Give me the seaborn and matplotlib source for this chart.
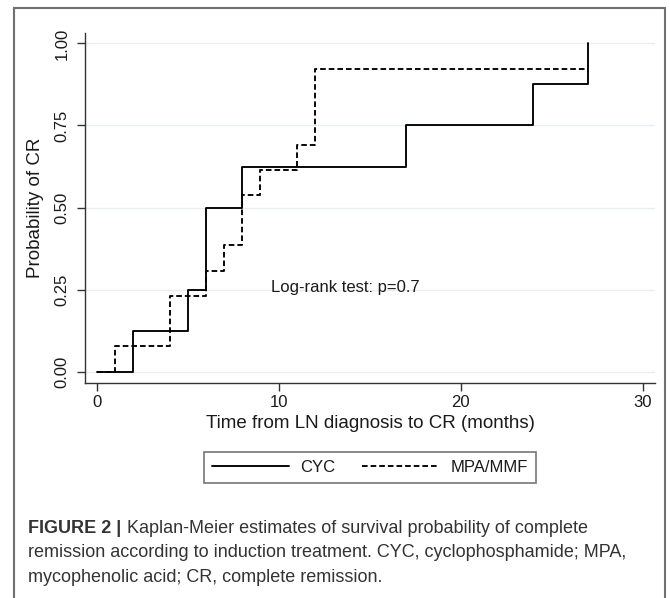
import matplotlib
matplotlib.use("Agg")
import matplotlib.pyplot as plt
from matplotlib.patches import Rectangle
import seaborn as sns
import pandas as pd

# ---- data ----
cyc_time = [0, 2, 5, 6, 8, 17, 24, 27]
cyc_prob = [0.0, 0.125, 0.25, 0.5, 0.625, 0.75, 0.875, 1.0]
mpa_time = [0, 1, 4, 6, 7, 8, 9, 11, 12, 27]
mpa_prob = [0.0, 0.077, 0.231, 0.308, 0.385, 0.538, 0.615, 0.692, 0.923, 0.923]
groups = ["CYC", "MPA/MMF"]
x_ticks = [0, 10, 20, 30]
y_ticks = [0.0, 0.25, 0.5, 0.75, 1.0]
y_tick_labels = ["0.00", "0.25", "0.50", "0.75", "1.00"]
annotation = "Log-rank test: p=0.7"
x_label = "Time from LN diagnosis to CR (months)"
y_label = "Probability of CR"
caption_bold = "FIGURE 2 |"
caption_lines = [
    " Kaplan-Meier estimates of survival probability of complete",
    "remission according to induction treatment. CYC, cyclophosphamide; MPA,",
    "mycophenolic acid; CR, complete remission.",
]

df = pd.concat([
    pd.DataFrame({"time": cyc_time, "prob": cyc_prob, "group": groups[0]}),
    pd.DataFrame({"time": mpa_time, "prob": mpa_prob, "group": groups[1]}),
], ignore_index=True)

sns.set_style("white")
plt.rcParams["font.family"] = ["Liberation Sans", "DejaVu Sans"]

W, H = 670, 598
fig = plt.figure(figsize=(W / 100, H / 100), dpi=100)
ax = fig.add_axes([85 / W, 1 - 382.7 / H, (654.7 - 85) / W, (382.7 - 33.3) / H])

for y in y_ticks:
    ax.axhline(y, color="#e6eff0", lw=1.0, zorder=0)

sns.lineplot(
    data=df, x="time", y="prob", hue="group", style="group",
    palette={groups[0]: "black", groups[1]: "black"},
    dashes={groups[0]: "", groups[1]: (3, 1.6)},
    drawstyle="steps-post", estimator=None, lw=1.35,
    legend=False, ax=ax, zorder=3,
)

ax.set_xlim(-0.643, 30.66)
ax.set_ylim(-0.0335, 1.0307)
ax.set_xticks(x_ticks)
ax.set_yticks(y_ticks)
ax.set_yticklabels(y_tick_labels)
ax.tick_params(axis="both", which="major", bottom=True, left=True,
               direction="out", length=6, width=1.0,
               color="#333333", labelsize=12, labelcolor="#1a1a1a")
ax.tick_params(axis="x", pad=3)
ax.tick_params(axis="y", labelrotation=90, pad=5)
for lab in ax.get_yticklabels():
    lab.set_va("center")

for s in ["top", "right"]:
    ax.spines[s].set_visible(False)
for s in ["left", "bottom"]:
    ax.spines[s].set_color("#333333")
    ax.spines[s].set_linewidth(1.0)

ax.set_xlabel(x_label, fontsize=13.5, color="#1a1a1a")
ax.set_ylabel(y_label, fontsize=13.5, color="#1a1a1a")
ax.xaxis.set_label_coords(0.5008, -0.093)
ax.yaxis.set_label_coords(-0.072, 0.5)

ax.text(9.56, 0.243, annotation, ha="left", va="baseline",
        fontsize=12, color="#1a1a1a")

handles = [l for l in ax.get_lines() if l.get_drawstyle() == "steps-post"]
leg = fig.legend(handles[:2], groups, loc="center",
                 bbox_to_anchor=(370 / W, 1 - 467.5 / H), ncol=2,
                 fontsize=12, frameon=True, fancybox=False, shadow=False,
                 handlelength=4.6, handletextpad=0.7, columnspacing=1.6,
                 borderpad=0.5, edgecolor="#555555")
leg.get_frame().set_linewidth(1.2)
for t in leg.get_texts():
    t.set_color("#1a1a1a")

# caption
cap_color = "#333333"
x0 = 28.3 / W
base_y = [532.7, 557.0, 581.5]
tb = fig.text(x0, 1 - base_y[0] / H, caption_bold, fontsize=13, weight="bold",
              va="baseline", ha="left", color=cap_color)
fig.canvas.draw()
bb = tb.get_window_extent()
fig.text(bb.x1 / W, 1 - base_y[0] / H, caption_lines[0], fontsize=13,
         va="baseline", ha="left", color=cap_color)
for line, by in zip(caption_lines[1:], base_y[1:]):
    fig.text(x0, 1 - by / H, line, fontsize=13, va="baseline", ha="left",
             color=cap_color)

# outer frame
fig.patches.append(Rectangle((14 / W, -0.02), (665 - 14) / W, 1 - 8.4 / H + 0.02,
                             transform=fig.transFigure, fill=False,
                             ec="#707070", lw=1.5))

fig.savefig("out.png", dpi=100)
